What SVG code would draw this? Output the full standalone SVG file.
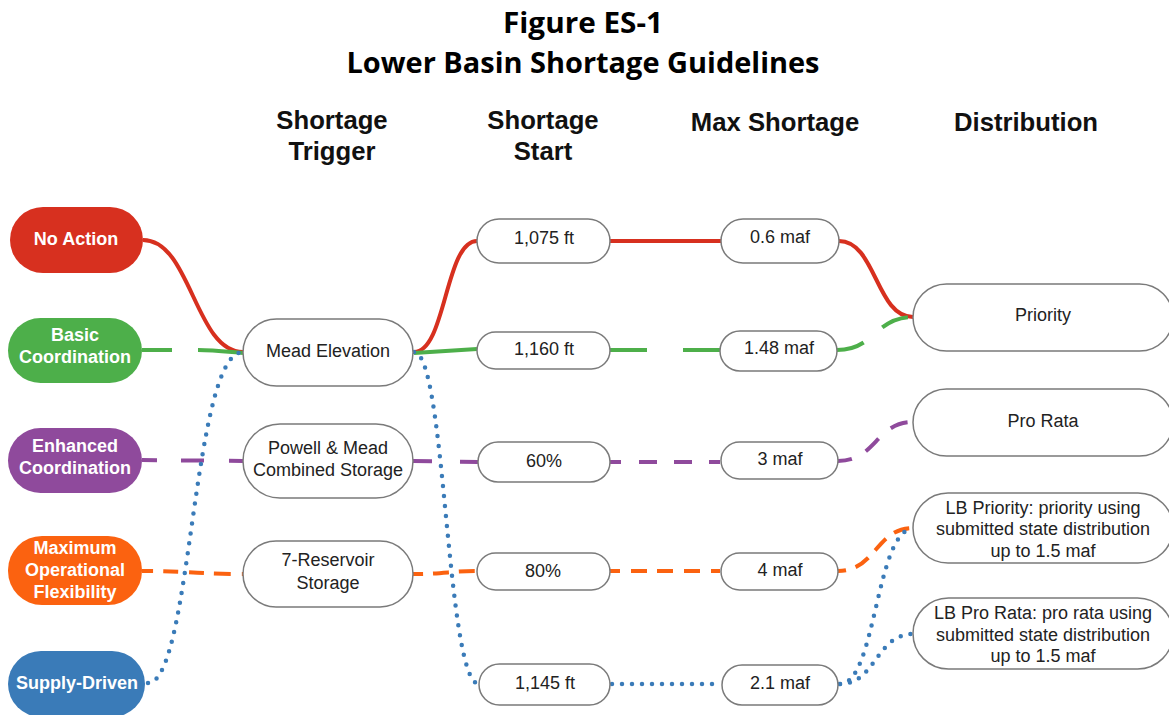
<svg xmlns="http://www.w3.org/2000/svg" width="1169" height="715" viewBox="0 0 1169 715">
<style>
.title{font-family:"Open Sans","Noto Sans","Liberation Sans",sans-serif;font-weight:700;font-size:29px;fill:#000;text-anchor:middle}
.hdr{font-family:"Liberation Sans",Arial,sans-serif;font-weight:700;font-size:25.7px;fill:#111;text-anchor:middle}
.pt{font-family:"Liberation Sans",Arial,sans-serif;font-weight:700;font-size:18px;fill:#fff;text-anchor:middle}
.box{fill:#fff;stroke:#7a7a7a;stroke-width:1.5}
.lbl{font-family:"Liberation Sans",Arial,sans-serif;font-size:18px;fill:#222;text-anchor:middle}
.c{fill:none;stroke-width:4}
.red{stroke:#d7301f}
.green{stroke:#4daf4a}
.purple{stroke:#8f4a9c}
.orange{stroke:#fb6210}
.blue{stroke:#3a7bb8;stroke-dasharray:0 10;stroke-linecap:round;stroke-width:4.5}
</style>
<rect width="1169" height="715" fill="#fff"/>
<g id="title">
<text class="title" x="583" y="33" textLength="160" lengthAdjust="spacingAndGlyphs">Figure ES-1</text>
<text class="title" x="583" y="73" textLength="473" lengthAdjust="spacingAndGlyphs">Lower Basin Shortage Guidelines</text>
</g>
<g id="headers">
<text class="hdr" x="332" y="129">Shortage</text>
<text class="hdr" x="332" y="160">Trigger</text>
<text class="hdr" x="543" y="129">Shortage</text>
<text class="hdr" x="543" y="160">Start</text>
<text class="hdr" x="775" y="131">Max Shortage</text>
<text class="hdr" x="1026" y="131">Distribution</text>
</g>
<g id="connectors">
<!-- red: No Action -->
<path class="c red" d="M143,240 C191,240 195,352 243,352"/>
<path class="c red" d="M414,352 C446,352 445,241 477,241"/>
<path class="c red" d="M610,241 L721,241"/>
<path class="c red" d="M839,241 C876,241 876,317 913,317"/>
<!-- green: Basic Coordination -->
<path class="c green" d="M142,350 L172,350 M198,350 C215,350 230,352 243,353"/>
<path class="c green" d="M414,353 L477,349"/>
<path class="c green" d="M610,350 L647,350 M683,350 L720,350"/>
<path class="c green" d="M837,350 C875,350 875,317 913,317" stroke-dasharray="28 24"/>
<!-- purple: Enhanced Coordination -->
<path class="c purple" d="M142,460 L243,461" stroke-dasharray="15 24 23 25 30"/>
<path class="c purple" d="M413,461 L478,462" stroke-dasharray="19 28 30"/>
<path class="c purple" d="M610,462 L720,462" stroke-dasharray="11 18 18 17 18 17 18 17 11"/>
<path class="c purple" d="M838,461 C876,461 876,422 913,422" stroke-dasharray="14 16 18 16 18"/>
<!-- orange: Maximum Operational Flexibility -->
<path class="c orange" d="M142,571 C190,571 200,574 243,574" stroke-dasharray="11 10 15 11 15 10 17 11 15"/>
<path class="c orange" d="M413,574 C445,574 450,571 477,571" stroke-dasharray="10 10 16 10 16"/>
<path class="c orange" d="M610,571 L720,571" stroke-dasharray="10 11 16 10 16 11 16 11 16"/>
<path class="c orange" d="M838,571 C876,571 876,528 913,528" stroke-dasharray="8 10 16 10 16 10 16"/>
<!-- blue: Supply-Driven -->
<path class="c blue" d="M148,683 C192,683 192,352 243,352"/>
<path class="c blue" d="M414,352 C446,352 446,684 479,684"/>
<path class="c blue" d="M612,684 L722,684"/>
<path class="c blue" d="M840,684 C876,684 876,529 913,529"/>
<path class="c blue" d="M840,684 C876,684 876,634 913,634"/>
</g>
<g id="n-no-action">
<rect x="10" y="207" width="133" height="66" rx="33" fill="#d7301f"/>
<text class="pt" x="76" y="245">No Action</text>
</g>
<g id="n-basic">
<rect x="8" y="318" width="134" height="65" rx="32.5" fill="#4daf4a"/>
<text class="pt" x="75" y="341">Basic</text>
<text class="pt" x="75" y="363">Coordination</text>
</g>
<g id="n-enhanced">
<rect x="8" y="428" width="134" height="65" rx="32.5" fill="#8f4a9c"/>
<text class="pt" x="75" y="452">Enhanced</text>
<text class="pt" x="75" y="474">Coordination</text>
</g>
<g id="n-max">
<rect x="8" y="536" width="134" height="69" rx="34" fill="#fb6210"/>
<text class="pt" x="75" y="554">Maximum</text>
<text class="pt" x="75" y="576">Operational</text>
<text class="pt" x="75" y="598">Flexibility</text>
</g>
<g id="n-supply">
<rect x="8" y="651" width="137" height="66" rx="33" fill="#3a7bb8"/>
<text class="pt" x="77" y="689">Supply-Driven</text>
</g>
<g id="n-mead">
<rect class="box" x="243" y="319" width="170" height="67" rx="33.5"/>
<text class="lbl" x="328" y="357">Mead Elevation</text>
</g>
<g id="n-powell">
<rect class="box" x="243" y="424" width="170" height="74" rx="37"/>
<text class="lbl" x="328" y="454">Powell &amp; Mead</text>
<text class="lbl" x="328" y="476">Combined Storage</text>
</g>
<g id="n-7res">
<rect class="box" x="243" y="541" width="170" height="66" rx="33"/>
<text class="lbl" x="328" y="566">7-Reservoir</text>
<text class="lbl" x="328" y="589">Storage</text>
</g>
<g id="n-1075">
<rect class="box" x="477" y="219" width="133" height="44" rx="22"/>
<text class="lbl" x="544" y="244">1,075 ft</text>
</g>
<g id="n-1160">
<rect class="box" x="477" y="332" width="133" height="37" rx="18.5"/>
<text class="lbl" x="544" y="355">1,160 ft</text>
</g>
<g id="n-60">
<rect class="box" x="478" y="442" width="132" height="40" rx="20"/>
<text class="lbl" x="544" y="467">60%</text>
</g>
<g id="n-80">
<rect class="box" x="477" y="553" width="133" height="37" rx="18.5"/>
<text class="lbl" x="543" y="577">80%</text>
</g>
<g id="n-1145">
<rect class="box" x="479" y="664" width="131" height="41" rx="20.5"/>
<text class="lbl" x="545" y="689">1,145 ft</text>
</g>
<g id="n-06">
<rect class="box" x="721" y="219" width="118" height="44" rx="22"/>
<text class="lbl" x="780" y="243">0.6 maf</text>
</g>
<g id="n-148">
<rect class="box" x="720" y="331" width="117" height="40" rx="20"/>
<text class="lbl" x="779" y="354">1.48 maf</text>
</g>
<g id="n-3">
<rect class="box" x="721" y="442" width="117" height="37" rx="18.5"/>
<text class="lbl" x="780" y="465">3 maf</text>
</g>
<g id="n-4">
<rect class="box" x="721" y="553" width="117" height="37" rx="18.5"/>
<text class="lbl" x="780" y="576">4 maf</text>
</g>
<g id="n-21">
<rect class="box" x="722" y="665" width="116" height="40" rx="20"/>
<text class="lbl" x="780" y="689">2.1 maf</text>
</g>
<g id="n-priority">
<rect class="box" x="913" y="284" width="260" height="67" rx="33.5"/>
<text class="lbl" x="1043" y="321">Priority</text>
</g>
<g id="n-prorata">
<rect class="box" x="913" y="389" width="260" height="67" rx="33.5"/>
<text class="lbl" x="1043" y="427">Pro Rata</text>
</g>
<g id="n-lb-priority">
<rect class="box" x="913" y="493" width="260" height="70" rx="35"/>
<text class="lbl" x="1043" y="514">LB Priority: priority using</text>
<text class="lbl" x="1043" y="535">submitted state distribution</text>
<text class="lbl" x="1043" y="557">up to 1.5 maf</text>
</g>
<g id="n-lb-prorata">
<rect class="box" x="913" y="598" width="260" height="71" rx="35.5"/>
<text class="lbl" x="1043" y="619">LB Pro Rata: pro rata using</text>
<text class="lbl" x="1043" y="641">submitted state distribution</text>
<text class="lbl" x="1043" y="662">up to 1.5 maf</text>
</g>
</svg>
